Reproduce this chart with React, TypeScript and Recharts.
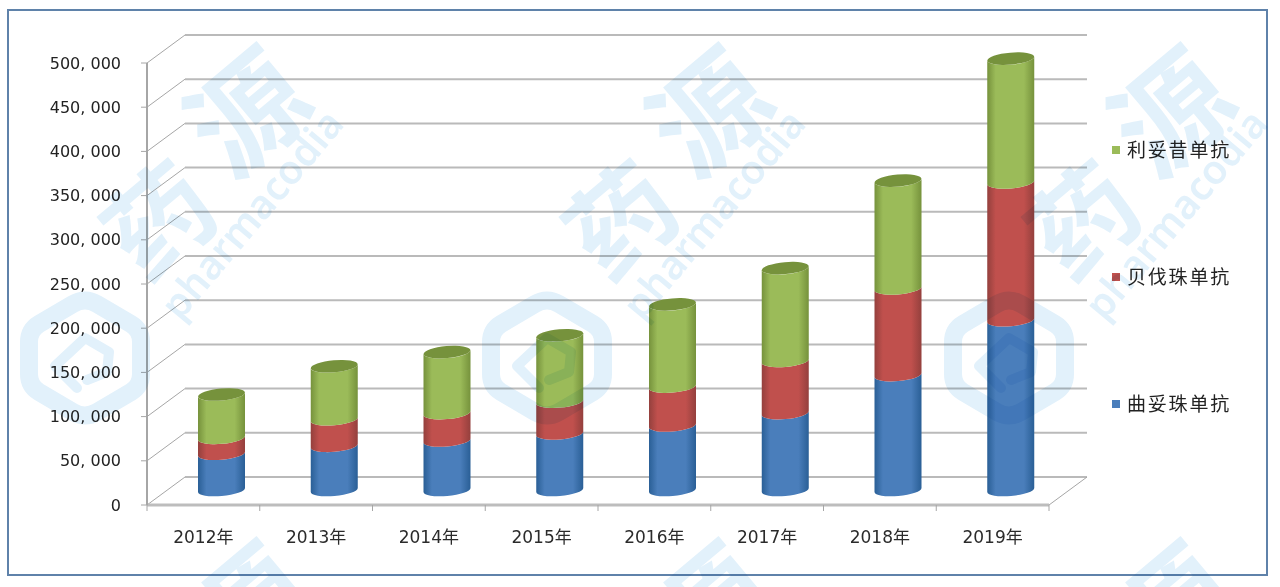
import React from 'react';
import { BarChart, Bar, XAxis, YAxis, CartesianGrid, Legend } from 'recharts';

const years = ['2012年', '2013年', '2014年', '2015年', '2016年', '2017年', '2018年', '2019年'];
const trastuzumab = [41000, 50000, 56000, 64000, 73000, 87000, 130000, 192000];
const bevacizumab = [18000, 30000, 31000, 36000, 44000, 59000, 98000, 156000];
const rituximab = [49000, 60000, 69000, 75000, 93000, 105000, 122000, 140000];
const yTicks = [0, 50000, 100000, 150000, 200000, 250000, 300000, 350000, 400000, 450000, 500000];
const legendOrder = ['利妥昔单抗', '贝伐珠单抗', '曲妥珠单抗'];

const data = years.map((year, i) => ({
  year,
  trastuzumab: trastuzumab[i],
  bevacizumab: bevacizumab[i],
  rituximab: rituximab[i],
}));

const DEPTH_X = 38;
const DEPTH_Y = -28;
const BAR_DX = 18;
const BAR_DY = -15;
const BAND = 902 / years.length;
const TILT = -5;

const palette = {
  blue: { fill: '#4a7ebb', edge: '#2a5f96', cap: '#3a6a9f' },
  red: { fill: '#c0504d', edge: '#94403d', cap: '#a04340' },
  green: { fill: '#9bbb59', edge: '#76923c', cap: '#76923c' },
};

const cylinder = (color: keyof typeof palette, cap: boolean) => (props: any) => {
  const { x, y, width, height } = props;
  if (!width || !height) return <g />;
  const left = x + BAR_DX;
  const right = left + width;
  const top = y + BAR_DY;
  const bottom = top + height;
  const rx = width / 2;
  const ry = 6;
  const lift = 2;
  const d =
    `M${left},${top + lift} A${rx},${ry} ${TILT} 0 0 ${right},${top - lift} ` +
    `L${right},${bottom - lift} A${rx},${ry} ${TILT} 0 1 ${left},${bottom + lift} Z`;
  return (
    <g>
      <path d={d} fill={`url(#grad-${color})`} />
      {cap && (
        <ellipse
          cx={left + rx}
          cy={top}
          rx={rx}
          ry={ry}
          fill={palette[color].cap}
          transform={`rotate(${TILT} ${left + rx} ${top})`}
        />
      )}
    </g>
  );
};

const gridLine = (props: any) => {
  const { x1, y1, x2, index } = props;
  const isFloor = Math.abs(y1 - 505) < 1;
  return (
    <g key={`grid-${index}`}>
      <line x1={x1} y1={y1} x2={x1 + DEPTH_X} y2={y1 + DEPTH_Y} stroke="#a6a6a6" strokeWidth={1} />
      <line x1={x1 + DEPTH_X} y1={y1 + DEPTH_Y} x2={x2 + DEPTH_X} y2={y1 + DEPTH_Y} stroke="#bababa" strokeWidth={2} />
      {isFloor && (
        <line x1={x2} y1={y1} x2={x2 + DEPTH_X} y2={y1 + DEPTH_Y} stroke="#a6a6a6" strokeWidth={1} />
      )}
    </g>
  );
};

const yearTick = (props: any) => {
  const { x, y, payload, index } = props;
  return (
    <g>
      <line x1={x - BAND / 2} y1={y - 8} x2={x - BAND / 2} y2={y - 2} stroke="#a6a6a6" />
      {index === years.length - 1 && (
        <line x1={x + BAND / 2} y1={y - 8} x2={x + BAND / 2} y2={y - 2} stroke="#a6a6a6" />
      )}
      <text x={x} y={y + 30} textAnchor="middle" fontSize={17} fill="#2b2b2b">
        {payload.value}
      </text>
    </g>
  );
};

const legendContent = (props: any) => {
  const items = legendOrder.map((name) => (props.payload || []).find((p: any) => p.value === name)).filter(Boolean);
  return (
    <div style={{ position: 'relative', width: 231, height: 587 }}>
      {items.map((item: any, i: number) => (
        <div
          key={item.value}
          style={{ position: 'absolute', left: 63, top: 136 + i * 127, display: 'flex', alignItems: 'center', whiteSpace: 'nowrap' }}
        >
          <span style={{ width: 8, height: 8, background: item.color, marginRight: 7 }} />
          <span style={{ fontSize: 19, letterSpacing: 1.8, color: '#222', lineHeight: '28px' }}>{item.value}</span>
        </div>
      ))}
    </div>
  );
};

const formatTick = (v: number) => (v === 0 ? '0' : `${v / 1000}, 000`);

const tileX = [0, 462, 924];
const WM = '#e2f1fb';
const LOGO_RING =
  'M-12,-54 Q0,-61 12,-54 L46,-34 Q56,-28 56,-16 L56,16 Q56,28 46,34 L12,54 Q0,61 -12,54 L-46,34 Q-56,28 -56,16 L-56,-16 Q-56,-28 -46,-34 Z';

function Watermark() {
  return (
    <svg
      width={1280}
      height={587}
      style={{ position: 'absolute', left: 0, top: 0, mixBlendMode: 'multiply', pointerEvents: 'none' }}
    >
      {tileX.map((dx) => (
        <g key={dx} transform={`translate(${dx} 0)`} fill={WM} fontFamily="'Noto Sans CJK SC'" fontWeight={700}>
          <text fontSize={115} textAnchor="middle" transform="translate(275 145) rotate(-40)">源</text>
          <text fontSize={105} textAnchor="middle" transform="translate(185 250) rotate(-40)">药</text>
          <text fontSize={40} fontFamily="'Noto Sans'" fontWeight={600} transform="translate(180 322) rotate(-50)">pharmacodia</text>
          <g transform="translate(85 358)" fill="none" stroke={WM} strokeLinejoin="round" strokeLinecap="round">
            <path d={LOGO_RING} strokeWidth={18} />
            <polyline points="-8,30 -30,8 0,-20 24,-6 22,14 2,22" strokeWidth={10} />
          </g>
          <text fontSize={115} textAnchor="middle" transform="translate(275 640) rotate(-40)">源</text>
        </g>
      ))}
    </svg>
  );
}

export default function App() {
  return (
    <div
      style={{
        position: 'absolute',
        left: 0,
        top: 0,
        width: 1280,
        height: 587,
        background: '#fff',
        overflow: 'hidden',
        filter: 'blur(0.7px)',
        fontFamily: "'DejaVu Sans', 'Noto Sans CJK SC', sans-serif",
      }}
    >
      <div
        style={{
          position: 'absolute',
          left: 7,
          top: 9,
          width: 1261,
          height: 567,
          boxSizing: 'border-box',
          border: '2px solid #5f82aa',
        }}
      />
      <div style={{ position: 'absolute', left: 0, top: 0 }}>
        <BarChart
          width={1280}
          height={587}
          data={data}
          barSize={47}
          margin={{ top: 63, right: 0, bottom: 32, left: 47 }}
        >
          <defs>
            {Object.entries(palette).map(([name, c]) => (
              <linearGradient key={name} id={`grad-${name}`} x1="0" y1="0" x2="1" y2="0">
                <stop offset="0%" stopColor={c.edge} />
                <stop offset="18%" stopColor={c.fill} />
                <stop offset="78%" stopColor={c.fill} />
                <stop offset="100%" stopColor={c.edge} />
              </linearGradient>
            ))}
          </defs>
          <CartesianGrid horizontal={gridLine} vertical={false} />
          <XAxis
            dataKey="year"
            height={50}
            tickLine={false}
            axisLine={{ stroke: '#bdbdbd', strokeWidth: 3 }}
            tick={yearTick}
            interval={0}
          />
          <YAxis
            width={100}
            domain={[0, 500000]}
            ticks={yTicks}
            interval={0}
            tickFormatter={formatTick}
            tickSize={6}
            tickMargin={20}
            axisLine={{ stroke: '#a6a6a6', strokeWidth: 2 }}
            tickLine={{ stroke: '#a6a6a6' }}
            tick={{ fontSize: 16, fill: '#222' }}
          />
          <Legend layout="vertical" align="right" verticalAlign="top" wrapperStyle={{ top: 0, right: 0, width: 231, height: 587 }} content={legendContent} />
          <Bar dataKey="trastuzumab" name="曲妥珠单抗" stackId="a" fill={palette.blue.fill} shape={cylinder('blue', false)} isAnimationActive={false} />
          <Bar dataKey="bevacizumab" name="贝伐珠单抗" stackId="a" fill={palette.red.fill} shape={cylinder('red', false)} isAnimationActive={false} />
          <Bar dataKey="rituximab" name="利妥昔单抗" stackId="a" fill={palette.green.fill} shape={cylinder('green', true)} isAnimationActive={false} />
        </BarChart>
      </div>
      <Watermark />
    </div>
  );
}
